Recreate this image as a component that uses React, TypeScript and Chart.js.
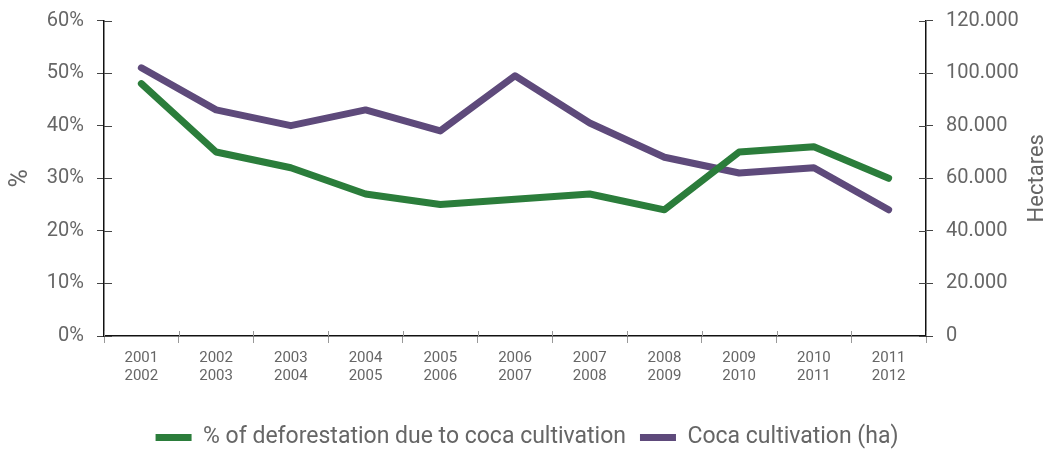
import { useEffect, useRef } from "react";
import { Chart, registerables } from "chart.js";

Chart.register(...registerables);

const categories: string[][] = [
  ["2001", "2002"], ["2002", "2003"], ["2003", "2004"], ["2004", "2005"],
  ["2005", "2006"], ["2006", "2007"], ["2007", "2008"], ["2008", "2009"],
  ["2009", "2010"], ["2010", "2011"], ["2011", "2012"],
];
const deforestationPct = [48, 35, 32, 27, 25, 26, 27, 24, 35, 36, 30];
const cocaHa = [102000, 86000, 80000, 86000, 78000, 99000, 81000, 68000, 62000, 64000, 48000];
const seriesLabels = ["% of deforestation due to coca cultivation", "Coca cultivation (ha)"];
const leftTitle = "%";
const rightTitle = "Hectares";

const GREEN = "#2b7d3b";
const PURPLE = "#5e4a7b";
const TEXT = "#666666";
const FONT = "Roboto, 'Liberation Sans', sans-serif";

const fmtThousands = (v: number) => String(v).replace(/\B(?=(\d{3})+(?!\d))/g, ".");

const extrasPlugin = {
  id: "extras",
  afterDraw(chart: any) {
    const ctx = chart.ctx;
    const y = chart.scales.y;
    const y1 = chart.scales.y1;
    const x = chart.scales.x;
    const area = chart.chartArea;
    ctx.save();
    ctx.lineWidth = 1;
    ctx.strokeStyle = "#444";
    y.ticks.forEach((_t: any, i: number) => {
      const py = Math.round(y.getPixelForTick(i)) + 0.5;
      ctx.beginPath();
      ctx.moveTo(area.left, py);
      ctx.lineTo(area.left + 8, py);
      ctx.stroke();
    });
    y1.ticks.forEach((_t: any, i: number) => {
      const py = Math.round(y1.getPixelForTick(i)) + 0.5;
      ctx.beginPath();
      ctx.moveTo(area.right - 7, py);
      ctx.lineTo(area.right, py);
      ctx.stroke();
    });
    ctx.strokeStyle = "#999";
    const n = x.ticks.length;
    for (let i = 0; i <= n; i++) {
      const px = Math.round(x.left + (i * (x.right - x.left)) / n) + 0.5;
      ctx.beginPath();
      ctx.moveTo(px, area.bottom - 5);
      ctx.lineTo(px, area.bottom);
      ctx.stroke();
    }
    ctx.fillStyle = TEXT;
    ctx.textAlign = "center";
    ctx.textBaseline = "middle";
    const cy = (area.top + area.bottom) / 2;
    ctx.save();
    ctx.font = `25px ${FONT}`;
    ctx.translate(21, cy);
    ctx.rotate(-Math.PI / 2);
    ctx.fillText(leftTitle, 0, 0);
    ctx.restore();
    ctx.save();
    ctx.font = `22px ${FONT}`;
    ctx.translate(1037, cy);
    ctx.rotate(-Math.PI / 2);
    ctx.fillText(rightTitle, 0, 0);
    ctx.restore();
    ctx.restore();
  },
};

export default function App() {
  const ref = useRef<HTMLCanvasElement>(null);
  useEffect(() => {
    document.body.style.margin = "0";
    const common = {
      borderWidth: 7,
      pointRadius: 0,
      pointHoverRadius: 0,
      borderCapStyle: "round" as const,
      borderJoinStyle: "round" as const,
    };
    const chart = new Chart(ref.current!, {
      type: "line",
      data: {
        labels: categories,
        datasets: [
          { ...common, label: seriesLabels[0], data: deforestationPct, borderColor: GREEN, backgroundColor: GREEN, yAxisID: "y" },
          { ...common, label: seriesLabels[1], data: cocaHa, borderColor: PURPLE, backgroundColor: PURPLE, yAxisID: "y1" },
        ],
      },
      options: {
        animation: false,
        responsive: false,
        layout: { padding: { top: 20.5, left: 0, right: 0, bottom: -6 } },
        plugins: {
          tooltip: { enabled: false },
          legend: {
            position: "bottom",
            labels: {
              usePointStyle: true,
              pointStyle: "line",
              pointStyleWidth: 36,
              boxHeight: 7,
              padding: 14,
              color: TEXT,
              font: { family: FONT, size: 23 },
            },
          },
        },
        scales: {
          x: {
            offset: true,
            grid: { display: true, drawOnChartArea: false, tickLength: 7, tickColor: "#999", offset: true },
            border: { display: true, color: "#111", width: 1.5 },
            ticks: {
              color: TEXT,
              font: { family: FONT, size: 15, lineHeight: 1.22 },
              padding: 6,
              maxRotation: 0,
              autoSkip: false,
            },
            afterFit: (s: any) => { s.height = 76; },
          },
          y: {
            position: "left",
            min: 0,
            max: 60,
            ticks: {
              stepSize: 10,
              color: TEXT,
              padding: 13,
              font: { family: FONT, size: 20 },
              callback: (v: any) => `${v}%`,
            },
            grid: { display: true, drawOnChartArea: false, tickLength: 7, tickColor: "#444" },
            border: { display: true, color: "#111", width: 1.5 },
            afterFit: (s: any) => { s.width = 104; s.paddingTop = 0; s.paddingBottom = 0; },
          },
          y1: {
            position: "right",
            min: 0,
            max: 120000,
            ticks: {
              stepSize: 20000,
              color: TEXT,
              padding: 13,
              font: { family: FONT, size: 20 },
              callback: (v: any) => fmtThousands(Number(v)),
            },
            grid: { display: true, drawOnChartArea: false, tickLength: 7, tickColor: "#444" },
            border: { display: true, color: "#111", width: 1.5 },
            afterFit: (s: any) => { s.width = 128; s.paddingTop = 0; s.paddingBottom = 0; },
          },
        },
      },
      plugins: [extrasPlugin],
    });
    return () => chart.destroy();
  }, []);
  return <canvas ref={ref} width={1054} height={453} style={{ display: "block" }} />;
}
